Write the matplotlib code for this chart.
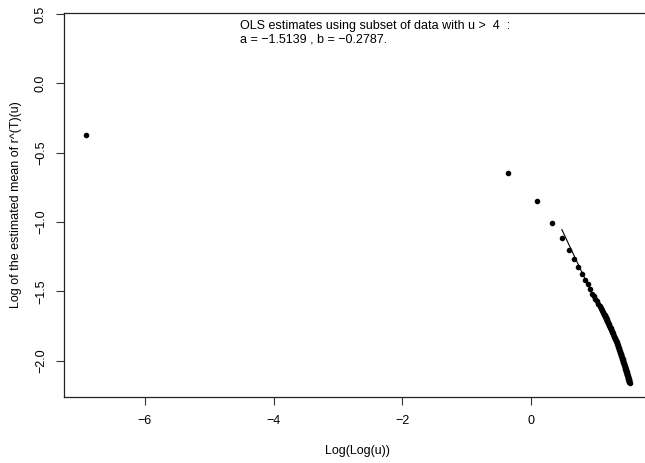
import numpy as np
import matplotlib
matplotlib.use("Agg")
import matplotlib.pyplot as plt

plt.rcParams['font.family'] = ['Liberation Sans', 'DejaVu Sans']

# ---------- Data ----------
# thresholds u (first one is just above 1)
u_values = [1.001] + list(range(2, 101))

# log of the estimated mean of r^(T)(u), one per threshold
log_mean = [
    -0.373, -0.647, -0.849, -1.003, -1.118, -1.203, -1.266, -1.325, -1.373, -1.414,
    -1.448, -1.484, -1.515, -1.535, -1.553, -1.571, -1.587, -1.603, -1.618, -1.633,
    -1.647, -1.660, -1.673, -1.686, -1.698, -1.710, -1.721, -1.732, -1.742, -1.753,
    -1.763, -1.773, -1.782, -1.792, -1.801, -1.810, -1.818, -1.827, -1.835, -1.843,
    -1.851, -1.859, -1.867, -1.874, -1.881, -1.889, -1.896, -1.903, -1.910, -1.916,
    -1.923, -1.929, -1.936, -1.942, -1.948, -1.954, -1.960, -1.966, -1.972, -1.978,
    -1.984, -1.989, -1.995, -2.000, -2.006, -2.011, -2.016, -2.021, -2.026, -2.031,
    -2.036, -2.041, -2.046, -2.051, -2.056, -2.060, -2.065, -2.070, -2.074, -2.079,
    -2.083, -2.088, -2.092, -2.096, -2.101, -2.105, -2.109, -2.113, -2.117, -2.121,
    -2.125, -2.129, -2.133, -2.137, -2.141, -2.145, -2.149, -2.153, -2.156, -2.160,
]

# fitted line over the subset u > 4 (end points)
fit_u = [5, 100]
fit_y = [-1.054, -2.093]

note_lines = ["OLS estimates using subset of data with u >  4  :",
              "a = \u22121.5139 , b = \u22120.2787."]

x_ticks = [-6, -4, -2, 0]
y_ticks = [0.5, 0.0, -0.5, -1.0, -1.5, -2.0]

# ---------- Plot ----------
W, H = 645, 463
fig = plt.figure(figsize=(W / 100, H / 100), dpi=100)
# right side of the box is cut off in the original
ax = fig.add_axes([64.3 / W, 1 - 397.3 / H, (651 - 64.3) / W, (397.3 - 12.7) / H])

x = np.log(np.log(np.array(u_values, dtype=float)))
ax.plot(x, log_mean, linestyle="none", marker="o", ms=3.0, color="black")
ax.plot(np.log(np.log(np.array(fit_u, dtype=float))), fit_y, color="black", lw=0.8)

ax.set_xlim(-7.25, 1.86)
ax.set_ylim(-2.263, 0.51)
ax.set_xticks(x_ticks)
ax.set_xticklabels([f"{t:d}".replace("-", "\u2212") for t in x_ticks])
ax.set_yticks(y_ticks)
ax.set_yticklabels([f"{t:.1f}".replace("-", "\u2212") for t in y_ticks],
                   rotation=90, va="center")

for s in ax.spines.values():
    s.set_linewidth(0.9)
    s.set_color("#222222")
ax.tick_params(length=5.5, width=0.8, labelsize=9, pad=7, color="#333333")

ax.set_xlabel("Log(Log(u))", fontsize=9, labelpad=13)
ax.set_ylabel("Log of the estimated mean of r^(T)(u)", fontsize=9, labelpad=9)

fig.text(240 / W, 1 - 26 / H, note_lines[0], fontsize=9, va="center", ha="left")
fig.text(240 / W, 1 - 40 / H, note_lines[1], fontsize=9, va="center", ha="left")

fig.savefig("out.png", dpi=100)
